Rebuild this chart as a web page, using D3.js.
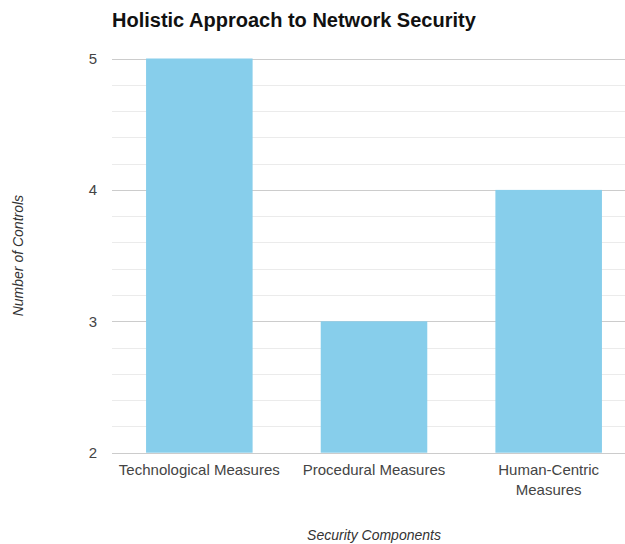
<!DOCTYPE html>
<html>
<head>
<meta charset="utf-8">
<script src="https://cdn.jsdelivr.net/npm/d3@7"></script>
<style>
  body { margin: 0; background: #fff; }
  svg { font-family: Arial, "Liberation Sans", sans-serif; }
</style>
</head>
<body>
<svg id="bar-chart" width="625" height="544"></svg>
<script>
const categories = ["Technological Measures", "Procedural Measures", "Human-Centric Measures"];
const values = [5, 3, 4];
const yTicks = [2, 3, 4, 5];

function renderBarChart() {
  let svg = d3.select("#bar-chart"),
    left = 112,
    right = 636,
    top = 58.5,
    bottom = 452.7;

  let x = d3.scaleBand().domain(categories).range([left, right]).paddingInner(0.39).paddingOuter(0.195);
  let y = d3.scaleLinear().domain([2, 5]).range([bottom, top]);

  // minor gridlines
  let minor = d3.range(2, 5.001, 0.2).filter((v) => Math.abs(v - Math.round(v)) > 0.01);
  svg.append("g")
    .selectAll("line")
    .data(minor)
    .enter()
    .append("line")
    .attr("x1", left)
    .attr("x2", 625)
    .attr("y1", (d) => Math.round(y(d)) + 0.5)
    .attr("y2", (d) => Math.round(y(d)) + 0.5)
    .attr("stroke", "#ebebeb");

  // major gridlines
  svg.append("g")
    .selectAll("line")
    .data(yTicks)
    .enter()
    .append("line")
    .attr("x1", left)
    .attr("x2", 625)
    .attr("y1", (d) => Math.round(y(d)) + 0.5)
    .attr("y2", (d) => Math.round(y(d)) + 0.5)
    .attr("stroke", "#cccccc");

  // bars
  svg.append("g")
    .selectAll("rect")
    .data(values)
    .enter()
    .append("rect")
    .attr("x", (d, i) => x(categories[i]))
    .attr("width", x.bandwidth())
    .attr("y", (d) => y(d))
    .attr("height", (d) => y(2) - y(d))
    .attr("fill", "#87ceeb");

  // y tick labels
  svg.append("g")
    .selectAll("text")
    .data(yTicks)
    .enter()
    .append("text")
    .attr("x", 97)
    .attr("y", (d) => y(d))
    .attr("dy", "0.35em")
    .attr("text-anchor", "end")
    .attr("font-size", "15px")
    .attr("fill", "#444")
    .text((d) => d);

  // x tick labels (wrap long ones)
  let labels = { "Human-Centric Measures": ["Human-Centric", "Measures"] };
  let xl = svg.append("g")
    .selectAll("text")
    .data(categories)
    .enter()
    .append("text")
    .attr("x", (d) => x(d) + x.bandwidth() / 2)
    .attr("y", 475)
    .attr("text-anchor", "middle")
    .attr("font-size", "15px")
    .attr("fill", "#444");
  xl.each(function (d) {
    let lines = labels[d] || [d];
    d3.select(this)
      .selectAll("tspan")
      .data(lines)
      .enter()
      .append("tspan")
      .attr("x", x(d) + x.bandwidth() / 2)
      .attr("dy", (l, i) => (i === 0 ? 0 : 20))
      .text((l) => l);
  });

  // title
  svg.append("text")
    .attr("x", left)
    .attr("y", 27)
    .attr("font-size", "20px")
    .attr("font-weight", "bold")
    .attr("fill", "#111")
    .text("Holistic Approach to Network Security");

  // axis titles
  svg.append("text")
    .attr("x", (left + right) / 2)
    .attr("y", 540)
    .attr("text-anchor", "middle")
    .attr("font-size", "14px")
    .attr("font-style", "italic")
    .attr("fill", "#333")
    .text("Security Components");

  svg.append("text")
    .attr("transform", "translate(23," + (top + bottom) / 2 + ") rotate(-90)")
    .attr("text-anchor", "middle")
    .attr("font-size", "14px")
    .attr("font-style", "italic")
    .attr("fill", "#333")
    .text("Number of Controls");
}

renderBarChart();
</script>
</body>
</html>
